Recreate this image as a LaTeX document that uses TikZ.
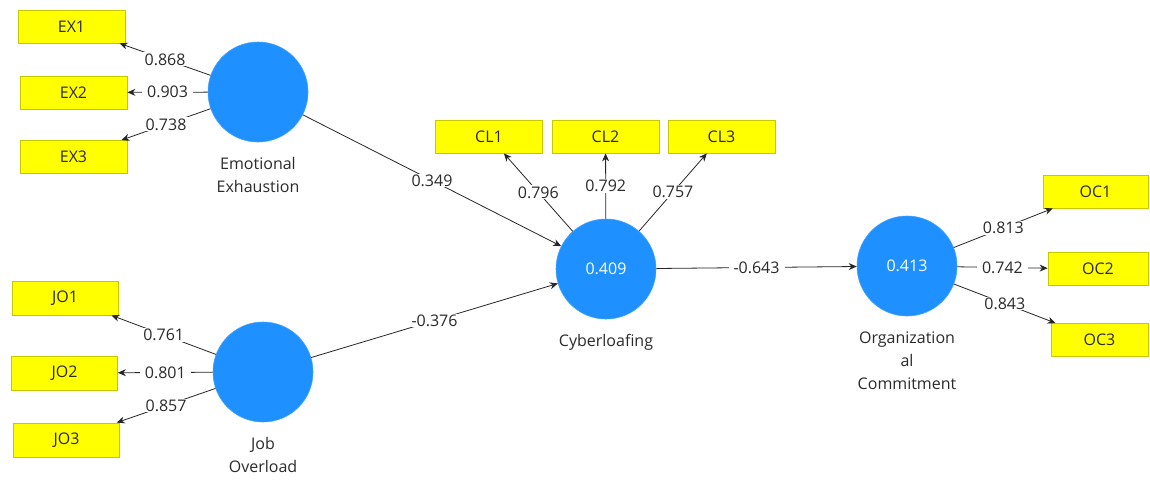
\documentclass[tikz,border=0pt]{standalone}
\usepackage{fontspec}
\setmainfont{Open Sans}
\usetikzlibrary{arrows.meta, positioning}
\definecolor{LatentBlue}{HTML}{1E90FF}
\definecolor{IndYellow}{HTML}{FFFF00}
\definecolor{IndBorder}{HTML}{C8C800}
\definecolor{TextGray}{HTML}{2A2A2A}
\newcommand{\pfont}{\fontsize{16}{23}\selectfont}
\tikzset{
    latent/.style={circle, fill=LatentBlue, draw=LatentBlue!85!white, line width=0.6pt, minimum size=100pt, inner sep=0pt, text=white, font=\pfont},
    indicator/.style={rectangle, draw=IndBorder, fill=IndYellow, line width=0.8pt, minimum width=107pt, minimum height=33pt, inner sep=0pt, text=TextGray, font=\pfont},
    arr/.style={-{Stealth[length=8pt,width=7pt]}, line width=0.8pt, draw=black!85},
    coef/.style={fill=white, inner xsep=5pt, inner ysep=1pt, text=TextGray, font=\pfont},
    cname/.style={align=center, inner sep=0pt, text=TextGray, font=\pfont},
}

\begin{document}
\begin{tikzpicture}[x=1pt, y=-1pt, node distance=15pt]
\useasboundingbox (0,0) rectangle (1150,479);
% latent variables
\node[latent] (ee) at (258,92) {};
\node[latent] (jo) at (263,372) {};
\node[latent] (cl) at (606,269) {0.409};
\node[latent] (oc) at (907,266) {0.413};
% names
\node[cname, below=of ee] (eename) {Emotional\\Exhaustion};
\node[cname, below=of jo] (joname) {Job\\Overload};
\node[cname, below=of cl] (clname) {Cyberloafing};
\node[cname, below=of oc] (ocname) {Organization\\al\\Commitment};

% indicators
\node[indicator] (ex1) at (71.5,26.5) {EX1};
\node[indicator] (ex2) at (73.5,92.5) {EX2};
\node[indicator] (ex3) at (73.5,157) {EX3};
\node[indicator, minimum width=106pt, minimum height=34pt] (jo1) at (65,298) {JO1};
\node[indicator, minimum width=106pt, minimum height=34pt] (jo2) at (64.5,373) {JO2};
\node[indicator, minimum width=106pt, minimum height=34pt] (jo3) at (66.5,440) {JO3};
\node[indicator] (cl1) at (489,136.5) {CL1};
\node[indicator] (cl2) at (605.5,136.5) {CL2};
\node[indicator] (cl3) at (721.5,136.5) {CL3};
\node[indicator, minimum width=105pt] (oc1) at (1095.5,191.5) {OC1};
\node[indicator, minimum width=100pt] (oc2) at (1098,269) {OC2};
\node[indicator, minimum width=97pt] (oc3) at (1099.5,340) {OC3};

% outer loadings
\draw[arr] (ee) -- (ex1) node[coef, midway] {0.868};
\draw[arr] (ee) -- (ex2) node[coef, midway] {0.903};
\draw[arr] (ee) -- (ex3) node[coef, midway] {0.738};
\draw[arr] (jo) -- (jo1) node[coef, midway] {0.761};
\draw[arr] (jo) -- (jo2) node[coef, midway] {0.801};
\draw[arr] (jo) -- (jo3) node[coef, midway] {0.857};
\draw[arr] (cl) -- (cl1) node[coef, midway] {0.796};
\draw[arr] (cl) -- (cl2) node[coef, midway] {0.792};
\draw[arr] (cl) -- (cl3) node[coef, midway] {0.757};
\draw[arr] (oc) -- (oc1) node[coef, midway] {0.813};
\draw[arr] (oc) -- (oc2) node[coef, midway] {0.742};
\draw[arr] (oc) -- (oc3) node[coef, midway] {0.843};

% path coefficients
\draw[arr] (ee) -- (cl) node[coef, midway] {0.349};
\draw[arr] (jo) -- (cl) node[coef, midway] {-0.376};
\draw[arr] (cl) -- (oc) node[coef, midway] {-0.643};

\end{tikzpicture}
\end{document}
